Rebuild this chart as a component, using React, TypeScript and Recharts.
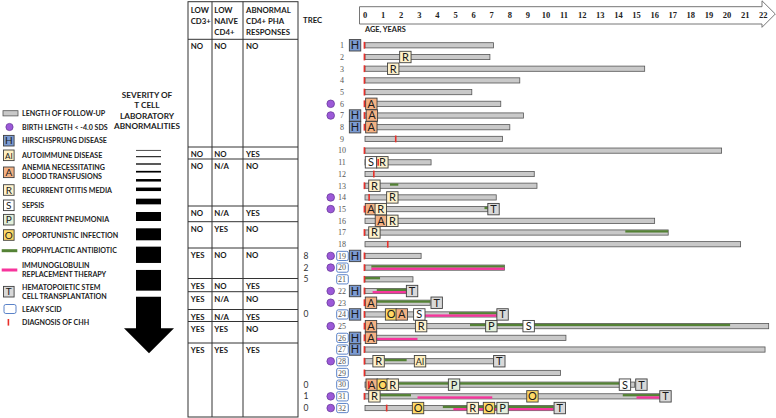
import React from 'react';
import { ComposedChart, Bar, XAxis, YAxis } from 'recharts';

// patients, top to bottom
const patientIds = [1, 2, 3, 4, 5, 6, 7, 8, 9, 10, 11, 12, 13, 14, 15, 16, 17, 18, 19, 20, 21, 22, 23, 24, 25, 26, 27, 28, 29, 30, 31, 32];
const followUpYears = [7.1, 6.9, 15.45, 8.55, 5.9, 7.5, 8.75, 8.0, 7.6, 19.7, 3.65, 9.35, 9.5, 7.25, 6.8, 16.0, 16.75, 20.75, 3.1, 7.7, 2.65, 2.3, 3.6, 7.27, 22.3, 11.1, 22.1, 7.1, 10.8, 14.9, 16.3, 10.4];
// age at diagnosis of CHH (null = not marked)
const chhAge: (number | null)[] = [0, 0, 0, 0, 0, 0, 0, 0, 1.73, 0, 0.76, 0.52, 0, 0.26, 0, null, 0, 1.29, 0, 0, 0, 0, 0, 0, 0, 0, 0, 0, 0, 0.24, 0, 1.23];

const birthLengthLow = [6, 7, 14, 15, 19, 20, 22, 23, 25, 28, 31, 32];
const leakyScid = [19, 20, 21, 24, 26, 27, 28, 29, 30, 31, 32];
const trecPatients = [19, 20, 21, 24, 30, 31, 32];
const trecValues = [8, 2, 5, 0, 0, 1, 0];

// Hirschsprung is drawn in front of the bar, not at an age
const hirschsprung = [1, 7, 8, 19, 22, 24, 26, 27];
const H_POS = -0.55;

// [patient, age]
const anemia = [[6, 0.35], [7, 0.38], [8, 0.35], [15, 0.33], [16, 0.88], [23, 0.33], [24, 2.03], [25, 0.33], [26, 0.33], [30, 0.37]];
const otitis = [[2, 2.23], [3, 1.56], [11, 0.96], [13, 0.52], [14, 1.51], [15, 0.87], [16, 1.51], [17, 0.52], [25, 3.1], [28, 0.75], [30, 1.53], [31, 0.52], [32, 5.95]];
const sepsis = [[11, 0.33], [24, 3.0], [25, 9.04], [30, 14.36]];
const pneumonia = [[25, 6.98], [30, 4.92], [32, 7.6]];
const opportunistic = [[24, 1.44], [30, 0.98], [31, 9.25], [32, 2.93], [32, 6.85]];
const autoimmune = [[28, 3.04]];
const hsct = [[15, 7.1], [22, 2.6], [23, 3.96], [24, 7.6], [28, 7.42], [30, 15.27], [31, 16.6], [32, 10.76]];

// [patient, from, to]
const antibiotic = [[13, 1.38, 1.84], [15, 6.6, 6.8], [17, 14.38, 16.74], [20, 0.35, 7.7], [21, 0, 0.83], [22, 0.65, 2.3], [23, 0.65, 3.6], [24, 4.64, 7.27], [25, 5.8, 20.17], [28, 1.1, 2.3], [30, 1.75, 14.1], [31, 0.83, 2.54], [31, 14.24, 16.3], [32, 4.3, 10.4]];
const immunoglobulin = [[20, 0.35, 7.7], [22, 0.42, 2.3], [24, 3.3, 7.27], [26, 0.65, 2.9], [31, 2.9, 7.03], [31, 15.0, 16.3], [32, 4.88, 10.4]];

const ageTicks = [0, 1, 2, 3, 4, 5, 6, 7, 8, 9, 10, 11, 12, 13, 14, 15, 16, 17, 18, 19, 20, 21, 22];

// table of T cell abnormalities, one entry per group of rows
const cd3Low = ['NO', 'NO', 'NO', 'NO', 'NO', 'YES', 'YES', 'YES', 'YES', 'YES', 'YES'];
const naiveLow = ['NO', 'NO', 'N/A', 'N/A', 'YES', 'NO', 'NO', 'N/A', 'N/A', 'YES', 'YES'];
const phaAbnormal = ['NO', 'YES', 'NO', 'YES', 'NO', 'NO', 'YES', 'NO', 'YES', 'NO', 'YES'];
const groupLines = [39.3, 147, 159, 206, 221.7, 248, 278.5, 291.7, 309.5, 321.5, 343, 417];

const EVENT_STYLE: Record<string, { label: string; fill: string }> = {
  H: { label: 'H', fill: '#7b9bd2' },
  A: { label: 'A', fill: '#f4b183' },
  R: { label: 'R', fill: '#fff2cc' },
  S: { label: 'S', fill: '#ffffff' },
  P: { label: 'P', fill: '#e2efda' },
  O: { label: 'O', fill: '#ffd966' },
  T: { label: 'T', fill: '#d9d9d9' },
  AI: { label: 'AI', fill: '#fff0c0' },
};

const GREEN = '#548235';
const PINK = '#f7349c';
const RED = '#e8302a';
const PURPLE = '#9c59d8';
const LEAKY = '#5a82c8';

const MAX_EVENTS = 6;
const MAX_SEGS = 2;

const rows = patientIds.map((id, i) => {
  const events: { type: string; age: number }[] = [];
  hirschsprung.forEach(p => { if (p === id) events.push({ type: 'H', age: H_POS }); });
  const add = (list: number[][], type: string) => list.forEach(e => { if (e[0] === id) events.push({ type, age: e[1] }); });
  add(anemia, 'A');
  add(otitis, 'R');
  add(sepsis, 'S');
  add(pneumonia, 'P');
  add(opportunistic, 'O');
  add(autoimmune, 'AI');
  add(hsct, 'T');
  events.sort((a, b) => a.age - b.age);

  const row: any = { id: String(id), follow: [0, followUpYears[i]], events };
  antibiotic.filter(s => s[0] === id).forEach((s, k) => { row['g' + k] = [s[1], s[2]]; });
  immunoglobulin.filter(s => s[0] === id).forEach((s, k) => { row['p' + k] = [s[1], s[2]]; });
  events.forEach((e, k) => { row['e' + k] = [e.age - 0.3, e.age + 0.3]; });
  const d = chhAge[i];
  if (d !== null) row.d = [d - 0.1, d + 0.1];
  return row;
});

const followShape = (props: any) => {
  const { x, y, width, height } = props;
  if (!isFinite(x) || !isFinite(width)) return <g />;
  const cy = y + height / 2;
  return <rect x={x} y={cy - 2.6} width={width} height={5.2} fill="#c9c9c9" stroke="#555" strokeWidth={0.8} />;
};

const segShape = (key: string, color: string, upper: boolean) => (props: any) => {
  const { x, y, width, height, payload } = props;
  if (!payload || !payload[key] || !isFinite(x)) return <g />;
  const cy = y + height / 2;
  return <rect x={x} y={upper ? cy - 2.3 : cy} width={width} height={2.3} fill={color} />;
};

const eventShape = (slot: number) => (props: any) => {
  const { x, y, width, height, payload } = props;
  const ev = payload && payload.events ? payload.events[slot] : null;
  if (!ev || !isFinite(x)) return <g />;
  const st = EVENT_STYLE[ev.type];
  const cx = x + width / 2;
  const cy = y + height / 2;
  const s = 11.4;
  return (
    <g>
      <rect x={cx - s / 2} y={cy - s / 2} width={s} height={s} fill={st.fill} stroke="#404040" strokeWidth={0.9} />
      <text x={cx} y={cy + 3.9} textAnchor="middle" fontSize={ev.type === 'AI' ? 9 : 11} fontFamily="Lato" fill="#1a1a1a">{st.label}</text>
    </g>
  );
};

const chhShape = (props: any) => {
  const { x, y, width, height, payload } = props;
  if (!payload || !payload.d || !isFinite(x)) return <g />;
  const cx = x + width / 2;
  const cy = y + height / 2;
  return <rect x={cx - 1.4} y={cy - 3.4} width={1.6} height={6.8} fill={RED} />;
};

const AgeTick = (props: any) => {
  const { x, payload } = props;
  return (
    <text x={x} y={18} textAnchor="middle" fontSize={8.5} fontWeight="bold" fontFamily="Liberation Serif" fill="#222">
      {payload.value}
    </text>
  );
};

const RowTick = (props: any) => {
  const { x, y, payload } = props;
  const id = Number(payload.value);
  const ti = trecPatients.indexOf(id);
  return (
    <g>
      {ti >= 0 && (
        <text x={x - 22.8} y={y + 3} textAnchor="middle" fontSize={8.5} fontFamily="Lato" fill="#333">{trecValues[ti]}</text>
      )}
      {birthLengthLow.includes(id) && <circle cx={x + 1.9} cy={y} r={3.8} fill={PURPLE} stroke="#6a3a9c" strokeWidth={0.8} />}
      {leakyScid.includes(id) && (
        <rect x={x + 7.9} y={y - 4.6} width={11.6} height={9.2} rx={1.6} fill="#fff" stroke={LEAKY} strokeWidth={1} />
      )}
      <text x={x + 13.2} y={y + 2.8} textAnchor="middle" fontSize={8} fontFamily="Liberation Serif" fill="#555">{id}</text>
    </g>
  );
};

// legend entries
const legendBoxes = [
  { type: 'H', y: 140.7, lines: ['HIRSCHSPRUNG DISEASE'] },
  { type: 'AI', y: 155.3, lines: ['AUTOIMMUNE DISEASE'] },
  { type: 'A', y: 172.3, lines: ['ANEMIA NECESSITATING', 'BLOOD TRANSFUSIONS'] },
  { type: 'R', y: 190, lines: ['RECURRENT OTITIS MEDIA'] },
  { type: 'S', y: 205.3, lines: ['SEPSIS'] },
  { type: 'P', y: 219.7, lines: ['RECURRENT PNEUMONIA'] },
  { type: 'O', y: 235, lines: ['OPPORTUNISTIC INFECTION'] },
  { type: 'T', y: 291.7, lines: ['HEMATOPOIETIC STEM', 'CELL TRANSPLANTATION'] },
];
const severityStripes = [[150.3, 0.7], [156.7, 1], [164, 1.3], [171.7, 1.7], [180.3, 2.5], [189.3, 3.5], [201.5, 5.7], [216.5, 9], [234.3, 12], [254.8, 16.3], [280.3, 20.7]];

const LegendText = ({ y, lines }: { y: number; lines: string[] }) => (
  <text x={22} y={y + 2.5 - (lines.length - 1) * 4.5} fontSize={7.1} fontWeight="bold" fontFamily="Lato" fill="#222">
    {lines.map((l, i) => (
      <tspan key={i} x={22} dy={i === 0 ? 0 : 9}>{l}</tspan>
    ))}
  </text>
);

const Decorations = () => {
  const colX = [188, 212, 243, 298];
  return (
    <svg width={776} height={418} style={{ position: 'absolute', left: 0, top: 0 }}>
      {/* legend */}
      <rect x={3} y={110.7} width={15} height={5.2} fill="#c9c9c9" stroke="#555" strokeWidth={0.8} />
      <LegendText y={113.3} lines={['LENGTH OF FOLLOW-UP']} />
      <circle cx={9.5} cy={127} r={3.6} fill={PURPLE} stroke="#6a3a9c" strokeWidth={0.8} />
      <LegendText y={127} lines={['BIRTH LENGTH < -4.0 SDS']} />
      {legendBoxes.map(b => (
        <g key={b.type}>
          <rect x={3.5} y={b.y - 5.3} width={10.6} height={10.6} fill={EVENT_STYLE[b.type].fill} stroke="#404040" strokeWidth={0.9} />
          <text x={8.8} y={b.y + 3.5} textAnchor="middle" fontSize={b.type === 'AI' ? 8 : 10} fontFamily="Lato" fill="#1a1a1a">
            {EVENT_STYLE[b.type].label}
          </text>
          <LegendText y={b.y} lines={b.lines} />
        </g>
      ))}
      <rect x={1.7} y={249.2} width={15.6} height={3} fill={GREEN} />
      <LegendText y={250.7} lines={['PROPHYLACTIC ANTIBIOTIC']} />
      <rect x={1.7} y={268.5} width={15.6} height={3} fill={PINK} />
      <LegendText y={270} lines={['IMMUNOGLOBULIN', 'REPLACEMENT THERAPY']} />
      <rect x={4} y={304.5} width={12} height={9} rx={1.8} fill="#fff" stroke={LEAKY} strokeWidth={1} />
      <LegendText y={309} lines={['LEAKY SCID']} />
      <rect x={7.6} y={319} width={1.6} height={6.6} fill={RED} />
      <LegendText y={322.3} lines={['DIAGNOSIS OF CHH']} />

      {/* severity scale */}
      <text textAnchor="middle" fontSize={8.2} fontWeight="bold" fontFamily="Lato" fill="#222">
        <tspan x={147} y={97.6}>SEVERITY OF</tspan>
        <tspan x={147} y={108.2}>T CELL</tspan>
        <tspan x={147} y={118.8}>LABORATORY</tspan>
        <tspan x={147} y={129.4}>ABNORMALITIES</tspan>
      </text>
      {severityStripes.map(([cy, h], i) => (
        <rect key={i} x={136} y={cy - h / 2} width={25} height={h} fill="#000" />
      ))}
      <polygon points="136,296.7 161,296.7 161,328.3 174,328.3 149,353.3 124,328.3 136,328.3" fill="#000" />

      {/* table */}
      <rect x={188} y={1.7} width={110} height={415.3} fill="none" stroke="#333" strokeWidth={1} />
      {colX.slice(1, 3).map(cx => (
        <line key={cx} x1={cx} x2={cx} y1={1.7} y2={417} stroke="#333" strokeWidth={1} />
      ))}
      {groupLines.slice(0, -1).map(gy => (
        <line key={gy} x1={188} x2={298} y1={gy} y2={gy} stroke="#333" strokeWidth={1} />
      ))}
      <g fontSize={7.8} fontWeight="bold" fontFamily="Lato" fill="#1a1a1a">
        <text><tspan x={190.7} y={12.8}>LOW</tspan><tspan x={190.7} y={23.8}>CD3+</tspan></text>
        <text><tspan x={214.3} y={12.8}>LOW</tspan><tspan x={214.3} y={23.8}>NAIVE</tspan><tspan x={214.3} y={34.8}>CD4+</tspan></text>
        <text><tspan x={246} y={12.8}>ABNORMAL</tspan><tspan x={246} y={23.8}>CD4+ PHA</tspan><tspan x={246} y={34.8}>RESPONSES</tspan></text>
        {cd3Low.map((v, i) => (
          <g key={i}>
            <text x={190.7} y={groupLines[i] + 10}>{v}</text>
            <text x={214.3} y={groupLines[i] + 10}>{naiveLow[i]}</text>
            <text x={246} y={groupLines[i] + 10}>{phaAbnormal[i]}</text>
          </g>
        ))}
        <text x={303} y={22.5}>TREC</text>
      </g>

      {/* age axis arrow */}
      <polygon points="359.5,6.7 762,6.7 762,0.8 775.3,14 762,27.3 762,24 359.5,24" fill="#fff" stroke="#666" strokeWidth={0.9} />
      <text x={365} y={32.2} fontSize={7.4} fontWeight="bold" fontFamily="Lato" fill="#222">AGE, YEARS</text>
    </svg>
  );
};

export default function App() {
  return (
    <div style={{ position: 'relative', width: 776, height: 418, background: '#fff', overflow: 'hidden' }}>
      <style>{'body{margin:0}'}</style>
      <Decorations />
      <div style={{ position: 'absolute', left: 0, top: 0 }}>
        <ComposedChart
          width={776}
          height={418}
          data={rows}
          layout="vertical"
          barGap={-9.7}
          margin={{ top: 0, right: 1.9, bottom: 4.1, left: 0 }}
        >
          <XAxis
            type="number"
            orientation="top"
            domain={[-2, 22.6]}
            allowDataOverflow
            height={39.45}
            ticks={ageTicks}
            interval={0}
            axisLine={false}
            tickLine={false}
            tick={<AgeTick />}
          />
          <YAxis
            type="category"
            dataKey="id"
            width={328.8}
            interval={0}
            axisLine={false}
            tickLine={false}
            tickSize={0}
            tickMargin={0}
            tick={<RowTick />}
          />
          <Bar dataKey="follow" barSize={9.7} isAnimationActive={false} shape={followShape} />
          {Array.from({ length: MAX_SEGS }).map((_, k) => (
            <Bar key={'g' + k} dataKey={'g' + k} barSize={9.7} isAnimationActive={false} shape={segShape('g' + k, GREEN, true)} />
          ))}
          {Array.from({ length: MAX_SEGS }).map((_, k) => (
            <Bar key={'p' + k} dataKey={'p' + k} barSize={9.7} isAnimationActive={false} shape={segShape('p' + k, PINK, false)} />
          ))}
          {Array.from({ length: MAX_EVENTS }).map((_, k) => (
            <Bar key={'e' + k} dataKey={'e' + k} barSize={9.7} isAnimationActive={false} shape={eventShape(k)} />
          ))}
          <Bar dataKey="d" barSize={9.7} isAnimationActive={false} shape={chhShape} />
        </ComposedChart>
      </div>
    </div>
  );
}
